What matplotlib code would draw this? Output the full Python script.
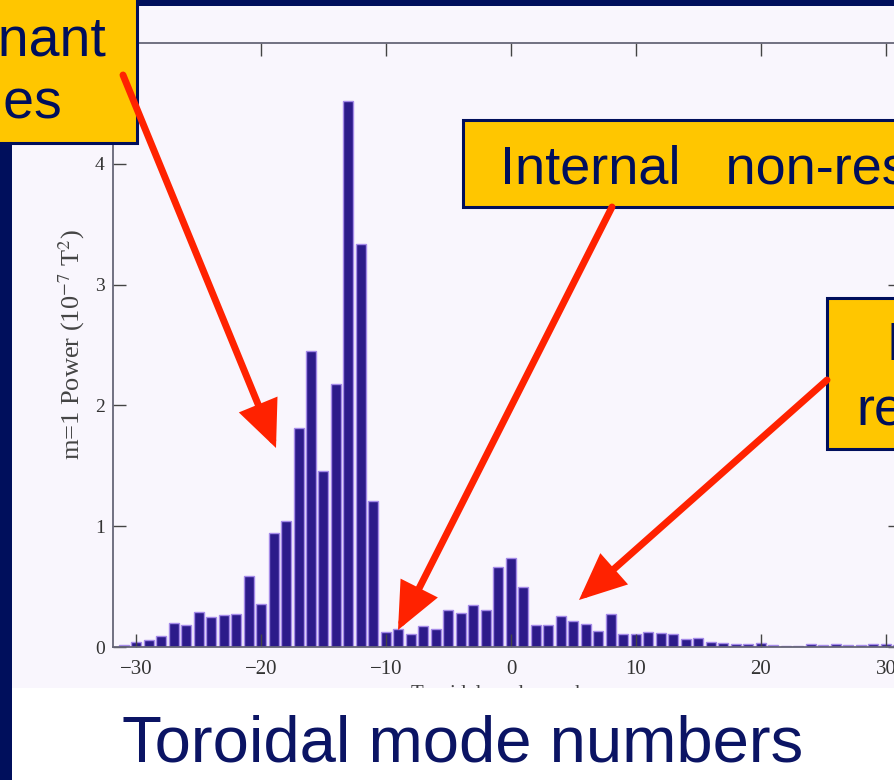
import numpy as np
import matplotlib
matplotlib.use('Agg')
import matplotlib.pyplot as plt
from matplotlib.patches import Rectangle, FancyArrowPatch

plt.rcParams['mathtext.fontset'] = 'stix'

# m=1 power spectrum vs toroidal mode number n
n_mode = list(range(-31, 32))
power = [0.015, 0.04, 0.06, 0.095, 0.195, 0.18, 0.29, 0.245, 0.265, 0.27,   # -31..-22
         0.59, 0.355, 0.945, 1.04, 1.81, 2.45, 1.46, 2.18, 4.52, 3.34,       # -21..-12
         1.21, 0.127, 0.146, 0.11, 0.17, 0.146, 0.305, 0.28, 0.35, 0.31,     # -11..-2
         0.66, 0.74, 0.50, 0.18, 0.18, 0.26, 0.215, 0.19, 0.13, 0.27,        # -1..8
         0.11, 0.11, 0.125, 0.12, 0.11, 0.066, 0.077, 0.04, 0.03, 0.025,     # 9..18
         0.025, 0.03, 0.013, 0.008, 0.01, 0.025, 0.015, 0.025, 0.015, 0.018, # 19..28
         0.028, 0.028, 0.02]                                                 # 29..31
xticks = [-30, -20, -10, 0, 10, 20, 30]
yticks = [0, 1, 2, 3, 4]

W, H = 895, 780
navy = '#000f5c'
yellow = '#ffc600'
red = '#ff2200'

def fx(px):
    return px / W

def fy(py):
    return 1 - py / H

def box(x0, y0, x1, y1, **kw):
    return Rectangle((fx(x0), fy(y1)), (x1 - x0) / W, (y1 - y0) / H,
                     transform=fig.transFigure, **kw)

fig = plt.figure(figsize=(W / 100, H / 100), dpi=100, facecolor='white')

# slide background: lavender plot panel, white strip below, navy frame
fig.add_artist(box(12, 0, W, 688, facecolor='#f9f6fd', edgecolor='none', zorder=-1))

ax = fig.add_axes([fx(113), fy(647), (901 - 113) / W, (647 - 43) / H])
ax.set_facecolor('#f9f6fd')
ax.bar(n_mode, power, width=0.8, color='#2c1b8a', edgecolor='#a48ae8', linewidth=1.0)
ax.set_xlim(-31.84, 31.2)
ax.set_ylim(0, 5)
ax.set_xticks(xticks)
ax.set_yticks(yticks)
for s in ax.spines.values():
    s.set_color('#666677')
    s.set_linewidth(1.3)
ax.tick_params(direction='in', length=9.5, width=1, top=True, right=True,
               color='#444444', labelcolor='#333333',
               labelfontfamily='Liberation Serif')
ax.tick_params(axis='x', pad=9, labelsize=15)
ax.tick_params(axis='y', pad=6, labelsize=14)
ax.set_ylabel('m=1 Power (10$^{-7}$ T$^{2}$)', fontsize=19, color='#444444',
              family='Liberation Serif')
ax.yaxis.set_label_coords(-0.033, 0.5)
ax.set_xlabel('Toroidal mode number', fontsize=15, color='#444444',
              family='Liberation Serif', labelpad=5)

fig.add_artist(box(12, 688, W, H, facecolor='white', edgecolor='none', zorder=1))
fig.add_artist(box(0, 0, 12, H, facecolor=navy, edgecolor='none', zorder=3))
fig.add_artist(box(0, 0, W, 6, facecolor=navy, edgecolor='none', zorder=3))

# callout boxes
for (x0, y0, x1, y1) in [(-10, -10, 137, 143), (463, 120, 910, 207), (827, 298, 910, 449)]:
    fig.add_artist(box(x0, y0, x1, y1, facecolor=yellow, edgecolor=navy,
                       linewidth=2.2, zorder=4))

txt = dict(family='Liberation Sans', color=navy, zorder=6, va='baseline')
fig.text(fx(106), fy(55), 'Resonant', fontsize=40, ha='right', **txt)
fig.text(fx(62), fy(118), 'modes', fontsize=40, ha='right', **txt)
fig.text(fx(500), fy(184), 'Internal   non-resonant', fontsize=39, ha='left', **txt)
fig.text(fx(887), fy(360), 'External', fontsize=39, ha='left', **txt)
fig.text(fx(856), fy(425), 'resonant', fontsize=39, ha='left', **txt)

# arrows pointing at the spectrum regions
for (x0, y0, x1, y1) in [(123, 75, 276, 448), (612, 207, 398, 630), (827, 380, 579, 600)]:
    fig.add_artist(FancyArrowPatch((fx(x0), fy(y0)), (fx(x1), fy(y1)),
                                   transform=fig.transFigure,
                                   arrowstyle='-|>,head_length=0.9,head_width=0.4',
                                   mutation_scale=28, linewidth=5, color=red,
                                   shrinkA=0, shrinkB=0, joinstyle='miter', zorder=5))

fig.text(fx(122), fy(762), 'Toroidal mode numbers', fontsize=47, color='#0b1464',
         family='Liberation Sans', ha='left', va='baseline', zorder=6)

fig.savefig('out.png', dpi=100)
